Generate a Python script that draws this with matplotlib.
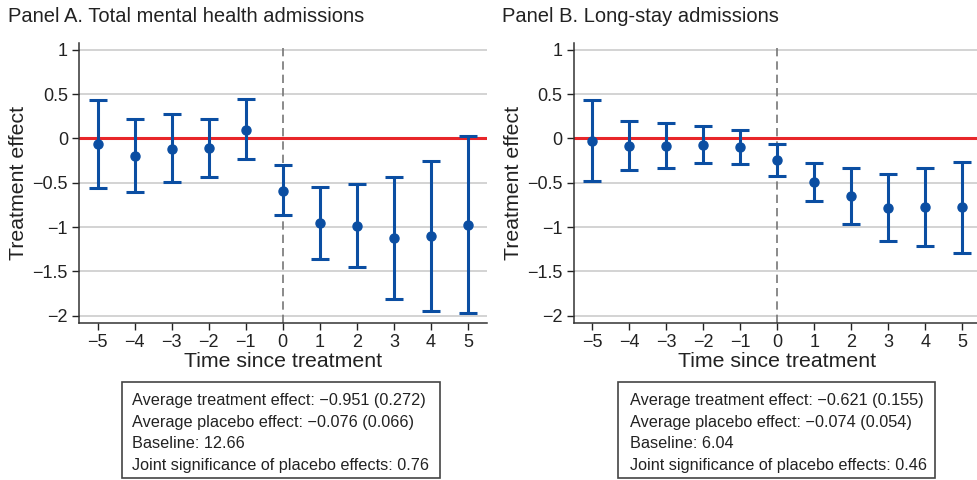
import matplotlib
matplotlib.use("Agg")
import matplotlib.pyplot as plt
from matplotlib.patches import Rectangle

plt.rcParams['font.family'] = ['Liberation Sans', 'DejaVu Sans']
plt.rcParams['axes.unicode_minus'] = True

periods = [-5, -4, -3, -2, -1, 0, 1, 2, 3, 4, 5]

coef_a = [-0.068, -0.196, -0.12, -0.113, 0.098, -0.588, -0.957, -0.987, -1.126, -1.104, -0.972]
hi_a = [0.43, 0.215, 0.27, 0.215, 0.44, -0.305, -0.55, -0.52, -0.437, -0.26, 0.026]
lo_a = [-0.565, -0.60, -0.497, -0.437, -0.237, -0.87, -1.356, -1.446, -1.808, -1.944, -1.966]

coef_b = [-0.03, -0.087, -0.083, -0.079, -0.098, -0.245, -0.497, -0.655, -0.791, -0.772, -0.776]
hi_b = [0.43, 0.196, 0.173, 0.136, 0.10, -0.068, -0.282, -0.335, -0.407, -0.335, -0.271]
lo_b = [-0.486, -0.36, -0.339, -0.282, -0.294, -0.426, -0.712, -0.968, -1.16, -1.209, -1.288]

titles = ["Panel A. Total mental health admissions", "Panel B. Long-stay admissions"]

box_lines_a = ["Average treatment effect: \u22120.951 (0.272)",
               "Average placebo effect: \u22120.076 (0.066)",
               "Baseline: 12.66",
               "Joint significance of placebo effects: 0.76"]
box_lines_b = ["Average treatment effect: \u22120.621 (0.155)",
               "Average placebo effect: \u22120.074 (0.054)",
               "Baseline: 6.04",
               "Joint significance of placebo effects: 0.46"]

yticks = [1, 0.5, 0, -0.5, -1, -1.5, -2]
ytick_labels = ["1", "0.5", "0", "\u22120.5", "\u22121", "\u22121.5", "\u22122"]
xtick_labels = [str(p).replace("-", "\u2212") for p in periods]

W, H = 977, 480
fig = plt.figure(figsize=(W / 100, H / 100), dpi=100)

blue = "#0b4ea2"
red = "#e8262a"

axes_left_px = [79, 573.5]
axes_w_px = 407.5
axes_top_px, axes_bot_px = 43, 322.7
box_specs = [(122, 440, 131.5, box_lines_a), (618, 935, 630.5, box_lines_b)]
title_x_px = [8, 502]

data = [(coef_a, lo_a, hi_a), (coef_b, lo_b, hi_b)]

for i in range(2):
    ax = fig.add_axes([axes_left_px[i] / W, 1 - axes_bot_px / H,
                       axes_w_px / W, (axes_bot_px - axes_top_px) / H])
    coef, lo, hi = data[i]
    yerr = [[c - l for c, l in zip(coef, lo)], [h - c for c, h in zip(coef, hi)]]
    ax.set_xlim(-5.5, 5.5)
    ax.set_ylim(-2.08, 1.077)
    ax.set_yticks(yticks)
    ax.set_yticklabels(ytick_labels)
    ax.set_xticks(periods)
    ax.set_xticklabels(xtick_labels)
    for y in yticks:
        ax.axhline(y, color="#d0d0d0", lw=1.3, zorder=0)
    ax.axvline(0, color="#777777", lw=1.2, ls=(0, (5, 3)), zorder=1)
    ax.axhline(0, color=red, lw=2.2, zorder=2)
    ax.errorbar(periods, coef, yerr=yerr, fmt="o", color=blue, ms=6.5,
                elinewidth=2.2, capsize=6.5, capthick=2.2, zorder=3)
    for s in ["top", "right"]:
        ax.spines[s].set_visible(False)
    for s in ["left", "bottom"]:
        ax.spines[s].set_color("#333333")
        ax.spines[s].set_linewidth(1.1)
    ax.tick_params(axis="both", labelsize=13, colors="#222222", length=5, width=1, pad=3)
    ax.set_xlabel("Time since treatment", fontsize=15.3, color="#222222", labelpad=1)
    ax.set_ylabel("Treatment effect", fontsize=15.3, color="#222222", labelpad=3)

    fig.text(title_x_px[i] / W, 1 - 16 / H, titles[i], fontsize=14.5,
             color="#222222", ha="left", va="center")

    bx0, bx1, tx, lines = box_specs[i]
    fig.patches.append(Rectangle((bx0 / W, 1 - 478 / H), (bx1 - bx0) / W, (478 - 382) / H,
                                 transform=fig.transFigure, fill=False,
                                 edgecolor="#444444", lw=1.2))
    for j, line in enumerate(lines):
        fig.text(tx / W, 1 - (401 + 21.5 * j) / H, line, fontsize=11.7,
                 color="#222222", ha="left", va="center")

fig.savefig("out.png", dpi=100)
